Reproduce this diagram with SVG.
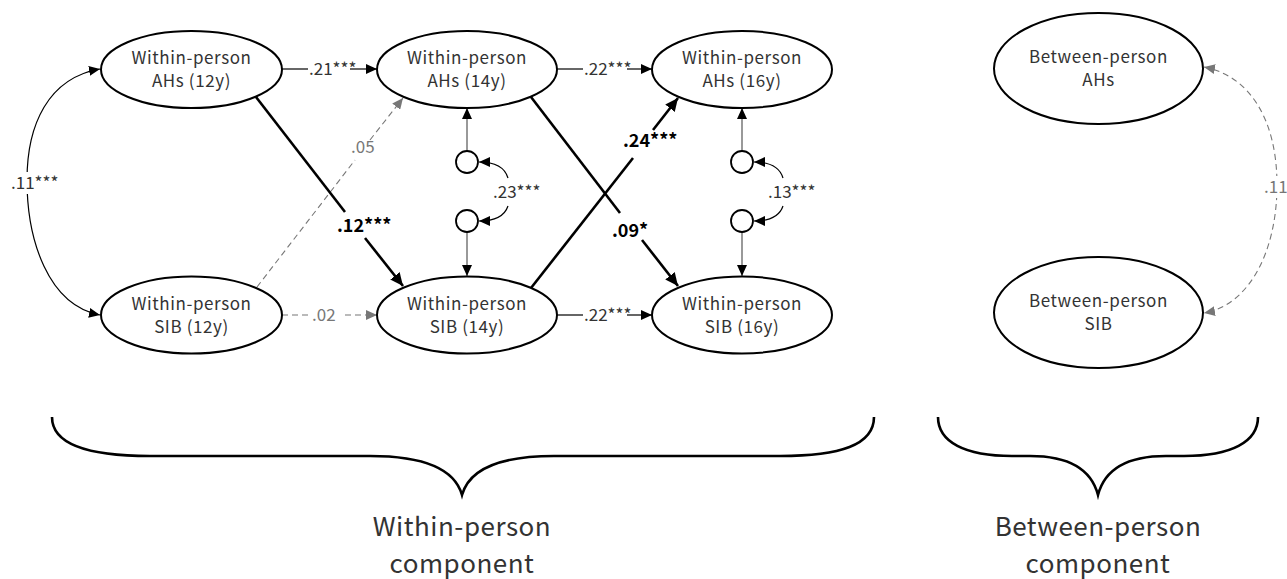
<svg xmlns="http://www.w3.org/2000/svg" width="1287" height="579" viewBox="0 0 1287 579">
<style>
text{font-family:"Noto Sans CJK JP","Noto Sans",sans-serif;fill:#333}
.node{fill:#fff;stroke:#000;stroke-width:2}
.circ{fill:#fff;stroke:#000;stroke-width:1.8}
.nt{font-size:17px;text-anchor:middle;letter-spacing:0.6px}
.lbl{font-size:17px}
.blbl{font-size:18px;font-weight:bold;fill:#000}
.glbl{font-size:17px;fill:#777}
.thin{fill:none;stroke:#000;stroke-width:1.2}
.thick{fill:none;stroke:#000;stroke-width:2.6}
.gray{fill:none;stroke:#555;stroke-width:1.2}
.dash{fill:none;stroke:#777;stroke-width:1.1;stroke-dasharray:6 4}
.brace{fill:none;stroke:#000;stroke-width:2.6}
.big{font-size:26px;text-anchor:middle;letter-spacing:0.5px}
</style>
<defs>
<marker id="ah" markerWidth="12" markerHeight="10" refX="11" refY="5" orient="auto-start-reverse" markerUnits="userSpaceOnUse"><path d="M0,0 L11,5 L0,10 z" fill="#000"/></marker>
<marker id="ahk" markerWidth="14" markerHeight="12" refX="13" refY="6" orient="auto" markerUnits="userSpaceOnUse"><path d="M0,0 L13,6 L0,12 z" fill="#000"/></marker>
<marker id="ahg" markerWidth="12" markerHeight="10" refX="11" refY="5" orient="auto-start-reverse" markerUnits="userSpaceOnUse"><path d="M0,0 L11,5 L0,10 z" fill="#777"/></marker>
</defs>

<g id="connectors">
  <path class="thin" d="M100,69 C48,78 27,125 27,180 C27,240 48,305 100,315" marker-start="url(#ah)" marker-end="url(#ah)"/>
  <rect x="9" y="172" width="54" height="22" fill="#fff"/>
  <text class="lbl" x="11" y="189">.11***</text>

  <line class="thin" x1="282" y1="69" x2="308" y2="69"/>
  <text class="lbl" x="309" y="75">.21***</text>
  <line class="thin" x1="350" y1="69" x2="377" y2="69" marker-end="url(#ah)"/>

  <line class="thin" x1="557" y1="69" x2="583" y2="69"/>
  <text class="lbl" x="584" y="75">.22***</text>
  <line class="thin" x1="627" y1="69" x2="652" y2="69" marker-end="url(#ah)"/>

  <line class="thin" x1="557" y1="315" x2="583" y2="315"/>
  <text class="lbl" x="584" y="321">.22***</text>
  <line class="thin" x1="627" y1="315" x2="652" y2="315" marker-end="url(#ah)"/>

  <line class="dash" x1="282" y1="315" x2="311" y2="315"/>
  <text class="glbl" x="312" y="321">.02</text>
  <line class="dash" x1="345" y1="315" x2="377" y2="315" marker-end="url(#ahg)"/>

  <line class="dash" x1="257" y1="287" x2="355" y2="160"/>
  <text class="glbl" x="351" y="153">.05</text>
  <line class="dash" x1="370" y1="140" x2="403" y2="98" marker-end="url(#ahg)"/>

  <line class="thick" x1="256" y1="97" x2="345" y2="212"/>
  <text class="blbl" x="337" y="232">.12***</text>
  <line class="thick" x1="365" y1="238" x2="403" y2="286" marker-end="url(#ahk)"/>

  <line class="thick" x1="531" y1="288" x2="633" y2="158"/>
  <text class="blbl" x="623" y="147">.24***</text>
  <line class="thick" x1="653" y1="130" x2="678" y2="98" marker-end="url(#ahk)"/>

  <line class="thick" x1="531" y1="97" x2="620" y2="213"/>
  <text class="blbl" x="612" y="237">.09*</text>
  <line class="thick" x1="642" y1="240" x2="678" y2="286" marker-end="url(#ahk)"/>

  <line class="gray" x1="467" y1="151" x2="467" y2="108" marker-end="url(#ah)"/>
  <line class="gray" x1="467" y1="232" x2="467" y2="276" marker-end="url(#ah)"/>
  <path class="thin" d="M508,178 C505,168 496,162 479,162" marker-end="url(#ah)"/>
  <path class="thin" d="M508,206 C505,215 496,221 479,221" marker-end="url(#ah)"/>
  <text class="lbl" x="493" y="198">.23***</text>

  <line class="gray" x1="742" y1="151" x2="742" y2="108" marker-end="url(#ah)"/>
  <line class="gray" x1="742" y1="232" x2="742" y2="276" marker-end="url(#ah)"/>
  <path class="thin" d="M783,178 C780,168 771,162 754,162" marker-end="url(#ah)"/>
  <path class="thin" d="M783,206 C780,215 771,221 754,221" marker-end="url(#ah)"/>
  <text class="lbl" x="768" y="198">.13***</text>

  <path class="dash" d="M1204,67 C1250,76 1277,120 1277,185 C1277,250 1250,305 1204,313" marker-start="url(#ahg)" marker-end="url(#ahg)"/>
  <rect x="1262" y="176" width="25" height="22" fill="#fff"/>
  <text class="glbl" x="1264" y="193">.11</text>
</g>

<g id="n-ahs12"><ellipse class="node" cx="191.5" cy="69.5" rx="90.5" ry="38.5"/><text class="nt" x="191.5" y="64">Within-person</text><text class="nt" x="191.5" y="87">AHs (12y)</text></g>
<g id="n-ahs14"><ellipse class="node" cx="467" cy="69.5" rx="90" ry="38.5"/><text class="nt" x="467" y="64">Within-person</text><text class="nt" x="467" y="87">AHs (14y)</text></g>
<g id="n-ahs16"><ellipse class="node" cx="742" cy="69.5" rx="90" ry="38.5"/><text class="nt" x="742" y="64">Within-person</text><text class="nt" x="742" y="87">AHs (16y)</text></g>
<g id="n-sib12"><ellipse class="node" cx="191.5" cy="315" rx="90.5" ry="38.5"/><text class="nt" x="191.5" y="310">Within-person</text><text class="nt" x="191.5" y="333">SIB (12y)</text></g>
<g id="n-sib14"><ellipse class="node" cx="467" cy="315" rx="90" ry="38.5"/><text class="nt" x="467" y="310">Within-person</text><text class="nt" x="467" y="333">SIB (14y)</text></g>
<g id="n-sib16"><ellipse class="node" cx="742" cy="315" rx="90" ry="38.5"/><text class="nt" x="742" y="310">Within-person</text><text class="nt" x="742" y="333">SIB (16y)</text></g>
<g id="n-bahs"><ellipse class="node" cx="1098.5" cy="68.5" rx="104.5" ry="55.5"/><text class="nt" x="1098.5" y="63">Between-person</text><text class="nt" x="1098.5" y="86">AHs</text></g>
<g id="n-bsib"><ellipse class="node" cx="1098.5" cy="312.5" rx="104.5" ry="55.5"/><text class="nt" x="1098.5" y="307">Between-person</text><text class="nt" x="1098.5" y="330">SIB</text></g>
<g id="r-ahs14"><circle class="circ" cx="467" cy="162" r="11"/></g>
<g id="r-sib14"><circle class="circ" cx="467" cy="221" r="11"/></g>
<g id="r-ahs16"><circle class="circ" cx="742" cy="162" r="11"/></g>
<g id="r-sib16"><circle class="circ" cx="742" cy="221" r="11"/></g>

<g id="brace-within">
  <path class="brace" d="M52,417 C52,445 90,456 150,456 L370,456 C425,456 455,470 462,495 C469,470 499,456 554,456 L780,456 C840,456 874,445 874,417"/>
  <text class="big" x="462" y="536">Within-person</text>
  <text class="big" x="462" y="573">component</text>
</g>
<g id="brace-between">
  <path class="brace" d="M938,417 C938,442 965,456 1012,456 L1030,456 C1072,456 1092,472 1098,495 C1104,472 1124,456 1166,456 L1184,456 C1231,456 1258,442 1258,417"/>
  <text class="big" x="1098" y="536">Between-person</text>
  <text class="big" x="1098" y="573">component</text>
</g>
</svg>
